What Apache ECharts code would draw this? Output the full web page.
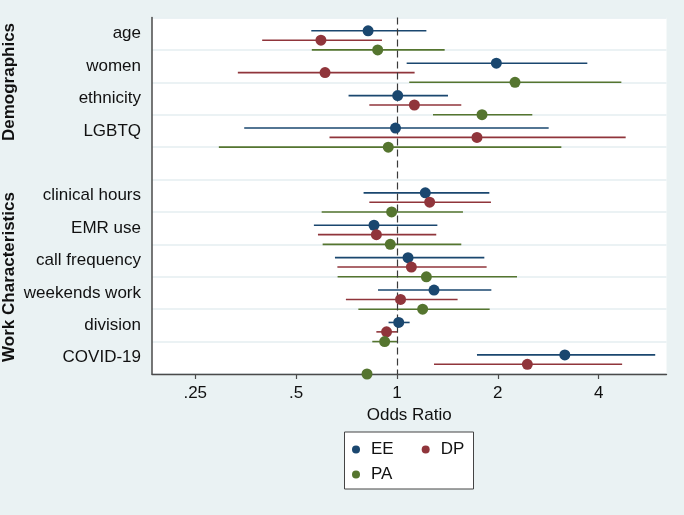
<!DOCTYPE html>
<html><head><meta charset="utf-8">
<script src="https://cdn.jsdelivr.net/npm/echarts@6/dist/echarts.min.js"></script>
<style>html,body{margin:0;padding:0;background:#eaf2f3}#c{width:684px;height:515px}</style>
</head><body><div id="c"></div>
<script>
// ---- data ----
const categories = ['age','women','ethnicity','LGBTQ','','clinical hours','EMR use','call frequency','weekends work','division','COVID-19'];
const groupTitles = ['Demographics','Work Characteristics'];
const xTicks = [0.25, 0.5, 1, 2, 4];
const xTickLabels = ['.25', '.5', '1', '2', '4'];
const seriesNames = ['EE', 'DP', 'PA'];

const eeOR = [0.82, 1.98, 1.005, 0.99, null, 1.215, 0.854, 1.079, 1.29, 1.012, 3.17];
const eeLo = [0.555, 1.069, 0.717, 0.350, null, 0.795, 0.565, 0.653, 0.878, 0.944, 1.733];
const eeHi = [1.224, 3.70, 1.420, 2.837, null, 1.887, 1.320, 1.823, 1.913, 1.091, 5.90];

const dpOR = [0.593, 0.610, 1.127, 1.733, null, 1.252, 0.868, 1.104, 1.025, 0.931, 2.45];
const dpLo = [0.396, 0.335, 0.827, 0.629, null, 0.827, 0.581, 0.664, 0.704, 0.868, 1.290];
const dpHi = [0.902, 1.129, 1.556, 4.816, null, 1.908, 1.310, 1.852, 1.517, 1.007, 4.70];

// COVID-19 PA interval is hidden under the x axis line in the source (not readable)
const paOR = [0.876, 2.251, 1.794, 0.942, null, 0.964, 0.955, 1.224, 1.193, 0.919, 0.814];
const paLo = [0.557, 1.088, 1.281, 0.294, null, 0.596, 0.600, 0.665, 0.767, 0.844, null];
const paHi = [1.388, 4.675, 2.535, 3.095, null, 1.574, 1.556, 2.282, 1.891, 1.000, null];

// ---- styling ----
const FONT = 'Liberation Sans, Arial, sans-serif';
const colors = ['#1a476f', '#90353b', '#55752f'];
const offsets = [-0.09, 0.2, 0.5];
const groups = [
  {or: eeOR, lo: eeLo, hi: eeHi},
  {or: dpOR, lo: dpLo, hi: dpHi},
  {or: paOR, lo: paLo, hi: paHi}
];

const series = [];
groups.forEach((g, k) => {
  const ci = [];
  const pts = [];
  categories.forEach((c, i) => {
    if (g.or[i] == null) return;
    if (g.lo[i] != null && g.hi[i] != null) ci.push([g.lo[i], g.hi[i], i + offsets[k]]);
    pts.push([g.or[i], i + offsets[k]]);
  });
  const color = colors[k];
  const ciSeries = {
    name: seriesNames[k] + ' CI',
    type: 'custom',
    xAxisIndex: 0, yAxisIndex: 1,
    z: 2,
    encode: {x: [0, 1], y: 2},
    data: ci,
    renderItem: (params, api) => {
      const y = api.value(2);
      const p1 = api.coord([api.value(0), y]);
      const p2 = api.coord([api.value(1), y]);
      return {type: 'line', shape: {x1: p1[0], y1: p1[1], x2: p2[0], y2: p2[1]},
              style: {stroke: color, lineWidth: 1.6}};
    }
  };
  if (k === 0) {
    ciSeries.markLine = {
      silent: true, symbol: 'none', z: 5, animation: false,
      label: {show: false},
      lineStyle: {type: [7, 4], color: '#3a3a3a', width: 1.2},
      data: [{xAxis: 1}]
    };
  }
  series.push(ciSeries);
  series.push({
    name: seriesNames[k],
    type: 'scatter',
    xAxisIndex: 0, yAxisIndex: 1,
    z: 10,
    symbol: 'circle',
    symbolSize: 11,
    itemStyle: {color: color, opacity: 1},
    data: pts
  });
});

const chart = echarts.init(document.getElementById('c'), null, {renderer: 'canvas'});
chart.setOption({
  animation: false,
  backgroundColor: '#eaf2f3',
  grid: {left: 152, right: 17.5, top: 17.5, bottom: 141, show: true, backgroundColor: '#ffffff', borderWidth: 0},
  xAxis: {
    type: 'log', logBase: 2, min: 0.1857, max: 6.376, z: 3,
    axisLine: {onZero: false, lineStyle: {color: '#4a4a4a', width: 1.4}},
    axisTick: {customValues: xTicks, length: 5, lineStyle: {color: '#4a4a4a', width: 1.2}},
    axisLabel: {customValues: xTicks, margin: 11, fontSize: 17, color: '#111', fontFamily: FONT,
      formatter: v => { const j = xTicks.findIndex(t => Math.abs(t - v) < 1e-6); return j >= 0 ? xTickLabels[j] : ''; }},
    splitLine: {show: false},
    name: 'Odds Ratio', nameLocation: 'middle', nameGap: 30,
    nameTextStyle: {fontSize: 17, color: '#111', fontFamily: FONT}
  },
  yAxis: [
    {
      type: 'category', data: categories, inverse: true, boundaryGap: true,
      axisLine: {onZero: false, lineStyle: {color: '#4a4a4a', width: 1.5}},
      axisTick: {alignWithLabel: true, length: 5, interval: (i, v) => v !== '', lineStyle: {color: '#4a4a4a', width: 1.2}},
      axisLabel: {interval: 0, margin: 11, fontSize: 17, color: '#111', fontFamily: FONT},
      splitLine: {show: true, interval: 0, lineStyle: {color: '#e4eef1', width: 1.6}}
    },
    {type: 'value', min: -0.5, max: 10.5, inverse: true, show: false}
  ],
  legend: [
    {data: ['EE', 'DP'], left: 352, top: 441, padding: 0, itemWidth: 20, itemHeight: 8, itemGap: 28,
     icon: 'circle', selectedMode: false, textStyle: {fontSize: 17, color: '#111', fontFamily: FONT}},
    {data: ['PA'], left: 352, top: 466, padding: 0, itemWidth: 20, itemHeight: 8,
     icon: 'circle', selectedMode: false, textStyle: {fontSize: 17, color: '#111', fontFamily: FONT}}
  ],
  graphic: [
    {type: 'rect', z: -1, shape: {x: 344.5, y: 432, width: 129, height: 57},
     style: {fill: '#ffffff', stroke: '#444', lineWidth: 1}},
    {type: 'text', x: 9, y: 82, rotation: Math.PI / 2,
     style: {text: groupTitles[0], font: 'bold 17px ' + FONT, fill: '#111', textAlign: 'center', textVerticalAlign: 'middle'}},
    {type: 'text', x: 9, y: 277, rotation: Math.PI / 2,
     style: {text: groupTitles[1], font: 'bold 17px ' + FONT, fill: '#111', textAlign: 'center', textVerticalAlign: 'middle'}}
  ],
  series: series
});
</script>
</body></html>
